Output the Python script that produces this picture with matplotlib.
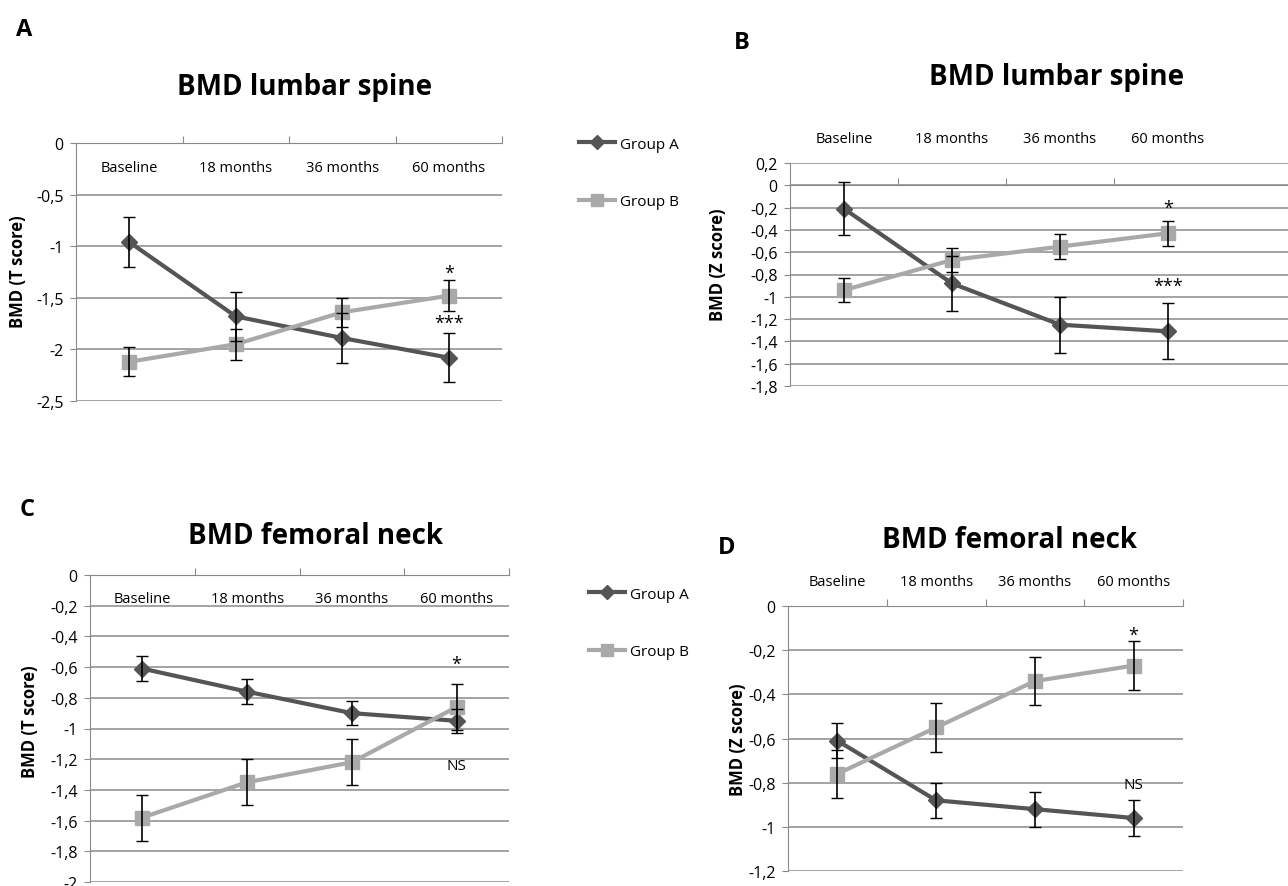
import matplotlib
matplotlib.use("Agg")
import matplotlib.pyplot as plt
from matplotlib.lines import Line2D
from matplotlib.ticker import FuncFormatter, MultipleLocator

plt.rcParams['font.family'] = ['Open Sans', 'DejaVu Sans']

categories = ['Baseline', '18 months', '36 months', '60 months']

# lumbar spine, T score
ls_t_a = [-0.96, -1.68, -1.89, -2.08]
ls_t_a_err = [0.24, 0.24, 0.24, 0.24]
ls_t_b = [-2.12, -1.95, -1.64, -1.48]
ls_t_b_err = [0.14, 0.15, 0.14, 0.15]

# lumbar spine, Z score
ls_z_a = [-0.21, -0.88, -1.25, -1.31]
ls_z_a_err = [0.24, 0.25, 0.25, 0.25]
ls_z_b = [-0.94, -0.67, -0.55, -0.43]
ls_z_b_err = [0.11, 0.11, 0.11, 0.11]

# femoral neck, T score
fn_t_a = [-0.61, -0.76, -0.90, -0.95]
fn_t_a_err = [0.08, 0.08, 0.08, 0.08]
fn_t_b = [-1.58, -1.35, -1.22, -0.86]
fn_t_b_err = [0.15, 0.15, 0.15, 0.15]

# femoral neck, Z score
fn_z_a = [-0.61, -0.88, -0.92, -0.96]
fn_z_a_err = [0.08, 0.08, 0.08, 0.08]
fn_z_b = [-0.76, -0.55, -0.34, -0.27]
fn_z_b_err = [0.11, 0.11, 0.11, 0.11]

COL_A = '#555555'
COL_B = '#a9a9a9'
GRID = '#8a8a8a'
W, H = 1288, 887

fig = plt.figure(figsize=(W / 100, H / 100), dpi=100)


def px_axes(left, top, right, bottom):
    return fig.add_axes([left / W, 1 - bottom / H, (right - left) / W, (bottom - top) / H])


def fmt(v, p):
    if abs(v) < 1e-9:
        return '0'
    return ('%g' % round(v, 2)).replace('.', ',')


def panel(rect, a, a_err, b, b_err, ylim, step, cat_y, axis_y=None, xmax=3.5, bounds=(0.5, 1.5, 2.5, 3.5)):
    ax = px_axes(*rect)
    x = range(len(categories))
    ax.plot(x, a, color=COL_A, lw=3, marker='D', ms=8, zorder=3)
    ax.plot(x, b, color=COL_B, lw=3, marker='s', ms=10, zorder=3)
    ax.errorbar(x, a, yerr=a_err, fmt='none', ecolor='black', elinewidth=1.2, capsize=4, zorder=4)
    ax.errorbar(x, b, yerr=b_err, fmt='none', ecolor='black', elinewidth=1.2, capsize=4, zorder=4)
    ax.set_xlim(-0.5, xmax)
    ax.set_ylim(*ylim)
    ax.yaxis.set_major_locator(MultipleLocator(step))
    ax.yaxis.set_major_formatter(FuncFormatter(fmt))
    ax.yaxis.grid(True, color=GRID, lw=1.1)
    ax.set_axisbelow(True)
    for s in ('bottom', 'right'):
        ax.spines[s].set_visible(False)
    ax.spines['left'].set_color(GRID)
    ax.spines['top'].set_color(GRID)
    if axis_y is not None:
        ax.spines['top'].set_position(('data', axis_y))
    ax.xaxis.set_ticks_position('top')
    ax.set_xticks(list(bounds))
    ax.set_xticklabels([])
    ax.tick_params(axis='x', direction='out', length=5, color=GRID)
    ax.tick_params(axis='y', direction='out', length=4, color=GRID, labelsize=11.5, pad=5)
    for i, c in enumerate(categories):
        ax.text(i, cat_y, c, ha='center', va='center', fontsize=10.5, clip_on=False)
    return ax


axA = panel((76, 144, 502, 402), ls_t_a, ls_t_a_err, ls_t_b, ls_t_b_err, (-2.5, 0), 0.5, -0.24)
axA.text(3, -1.26, '*', ha='center', va='center', fontsize=13)
axA.text(3, -1.74, '***', ha='center', va='center', fontsize=13)

axB = panel((790, 164, 1300, 387), ls_z_a, ls_z_a_err, ls_z_b, ls_z_b_err, (-1.8, 0.2), 0.2, 0.42,
            axis_y=0, xmax=3.5 + 78 / 108, bounds=(0.5, 1.5, 2.5))
axB.text(3, -0.2, '*', ha='center', va='center', fontsize=13)
axB.text(3, -0.9, '***', ha='center', va='center', fontsize=13)

axC = panel((90, 576, 509, 883), fn_t_a, fn_t_a_err, fn_t_b, fn_t_b_err, (-2, 0), 0.2, -0.15)
axC.text(3, -0.58, '*', ha='center', va='center', fontsize=13)
axC.text(3, -1.24, 'NS', ha='center', va='center', fontsize=11)

axD = panel((788, 607, 1183, 872), fn_z_a, fn_z_a_err, fn_z_b, fn_z_b_err, (-1.2, 0), 0.2, 0.113)
axD.text(3, -0.13, '*', ha='center', va='center', fontsize=13)
axD.text(3, -0.81, 'NS', ha='center', va='center', fontsize=11)

# titles, panel letters, y labels
for x, y, t in [(305, 88, 'BMD lumbar spine'), (1057, 78, 'BMD lumbar spine'),
                (315, 537, 'BMD femoral neck'), (1010, 540, 'BMD femoral neck')]:
    fig.text(x / W, 1 - y / H, t, ha='center', va='center', fontsize=20, fontweight='bold')
for x, y, t in [(24, 30, 'A'), (742, 43, 'B'), (27, 510, 'C'), (727, 548, 'D')]:
    fig.text(x / W, 1 - y / H, t, ha='center', va='center', fontsize=17, fontweight='bold')
for x, y, t in [(18, 272, 'BMD (T score)'), (718, 265, 'BMD (Z score)'),
                (30, 722, 'BMD (T score)'), (738, 740, 'BMD (Z score)')]:
    fig.text(x / W, 1 - y / H, t, ha='center', va='center', fontsize=12, fontweight='bold', rotation=90)

# legends
handles = [Line2D([], [], color=COL_A, lw=3, marker='D', ms=7),
           Line2D([], [], color=COL_B, lw=3, marker='s', ms=8)]
for x, y in [(571, 130), (581, 580)]:
    fig.legend(handles, ['Group A', 'Group B'], loc='upper left', bbox_to_anchor=(x / W, 1 - y / H),
               frameon=False, fontsize=11, labelspacing=2.8, handlelength=2.4, handletextpad=0.3,
               borderpad=0)

fig.savefig('out.png', dpi=100)
